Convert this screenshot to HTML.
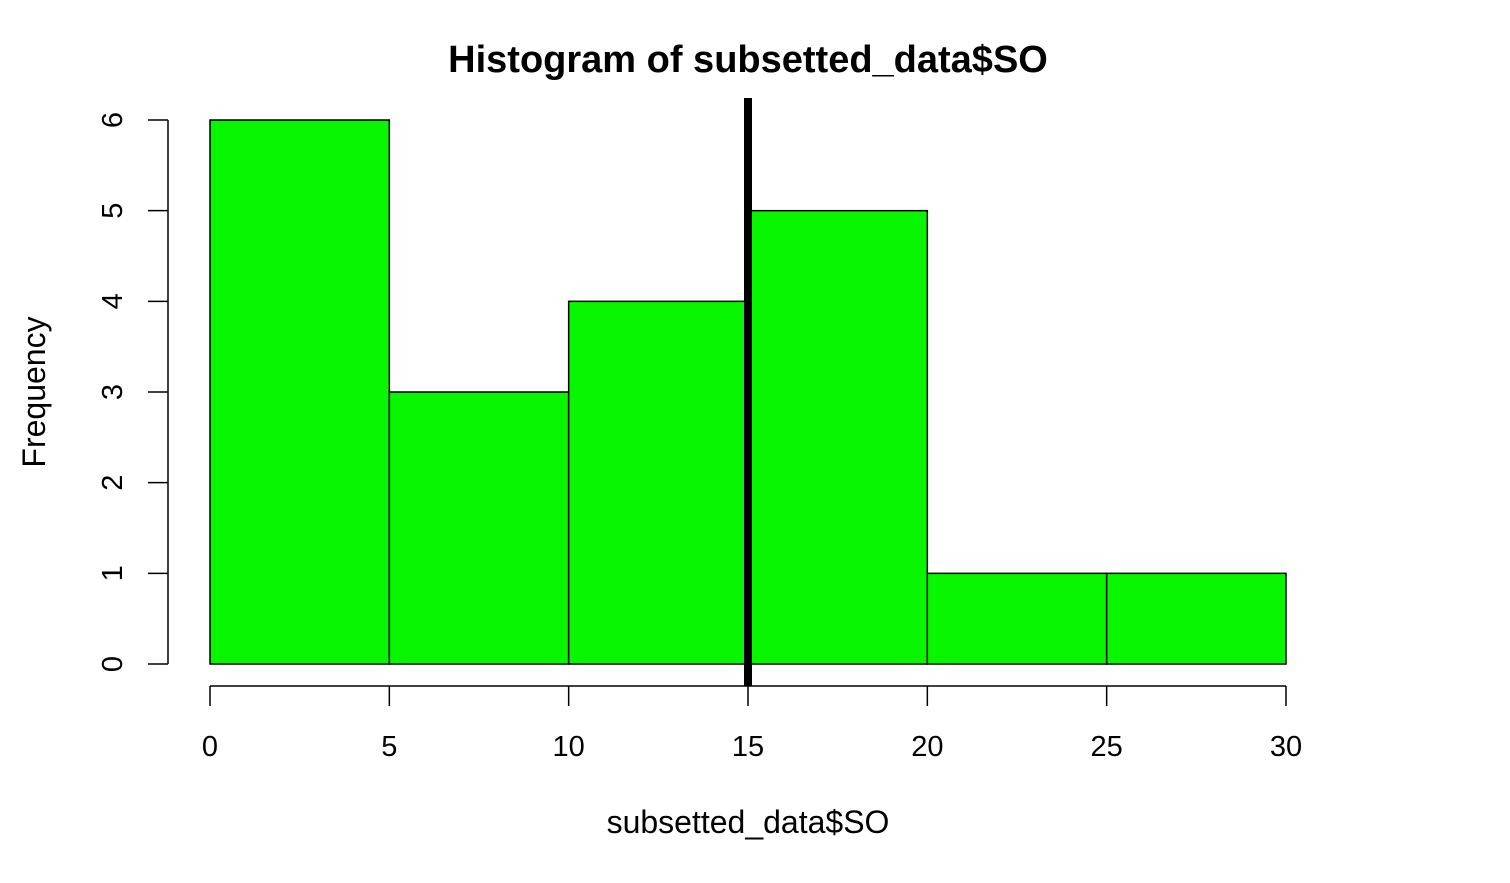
<!DOCTYPE html>
<html><head><meta charset="utf-8"><style>
body{margin:0;background:#fff}
svg text{font-family:"Liberation Sans",Arial,sans-serif}
</style></head><body>
<svg id="chart" width="1510" height="878" xmlns="http://www.w3.org/2000/svg">
<rect width="1510" height="878" fill="#fff"/>
<text x="748" y="72" text-anchor="middle" font-size="38" font-weight="bold">Histogram of subsetted_data$SO</text>
<text x="748" y="833" text-anchor="middle" font-size="32">subsetted_data$SO</text>
<text transform="translate(45,392) rotate(-90)" text-anchor="middle" font-size="32">Frequency</text>
<g id="bars"></g>
<g id="axes"></g>
</svg>
<script>
const binStarts=[0,5,10,15,20,25];
const binEnds=[5,10,15,20,25,30];
const counts=[6,3,4,5,1,1];
const xTicks=[0,5,10,15,20,25,30];
const yTicks=[0,1,2,3,4,5,6];
const meanLine=[15];
const NS="http://www.w3.org/2000/svg";
const X=v=>210+v*(1286-210)/30;
const Y=v=>664-v*(664-120)/6;
function mk(t,a,p){const e=document.createElementNS(NS,t);for(const k in a)e.setAttribute(k,a[k]);p.appendChild(e);return e;}
const bars=document.getElementById('bars'),axes=document.getElementById('axes');
counts.forEach((c,i)=>{
 const r=mk('rect',{x:X(binStarts[i]),y:Y(c),width:X(binEnds[i])-X(binStarts[i]),height:Y(0)-Y(c),fill:'#08f600',stroke:'#000','stroke-width':1.5},bars);
 
 
});
const xl=mk('line',{x1:X(xTicks[0]),x2:X(xTicks[xTicks.length-1]),y1:686,y2:686,stroke:'#000','stroke-width':1.5},axes);


xTicks.forEach(t=>{
 mk('line',{x1:X(t),x2:X(t),y1:686,y2:706,stroke:'#000','stroke-width':1.5},axes);
 const tx=mk('text',{x:X(t),y:756,'text-anchor':'middle','font-size':29},axes);tx.textContent=t;
 
 
});
const yl=mk('line',{x1:168,x2:168,y1:Y(yTicks[0]),y2:Y(yTicks[yTicks.length-1]),stroke:'#000','stroke-width':1.5},axes);


yTicks.forEach(t=>{
 mk('line',{x1:148,x2:168,y1:Y(t),y2:Y(t),stroke:'#000','stroke-width':1.5},axes);
 const tx=mk('text',{transform:`translate(122,${Y(t)}) rotate(-90)`,'text-anchor':'middle','font-size':29},axes);tx.textContent=t;
 
 
});
meanLine.forEach(v=>{
 const l=mk('line',{x1:X(v),x2:X(v),y1:98,y2:686,stroke:'#000','stroke-width':8},axes);
 
 
});
</script>
</body></html>
